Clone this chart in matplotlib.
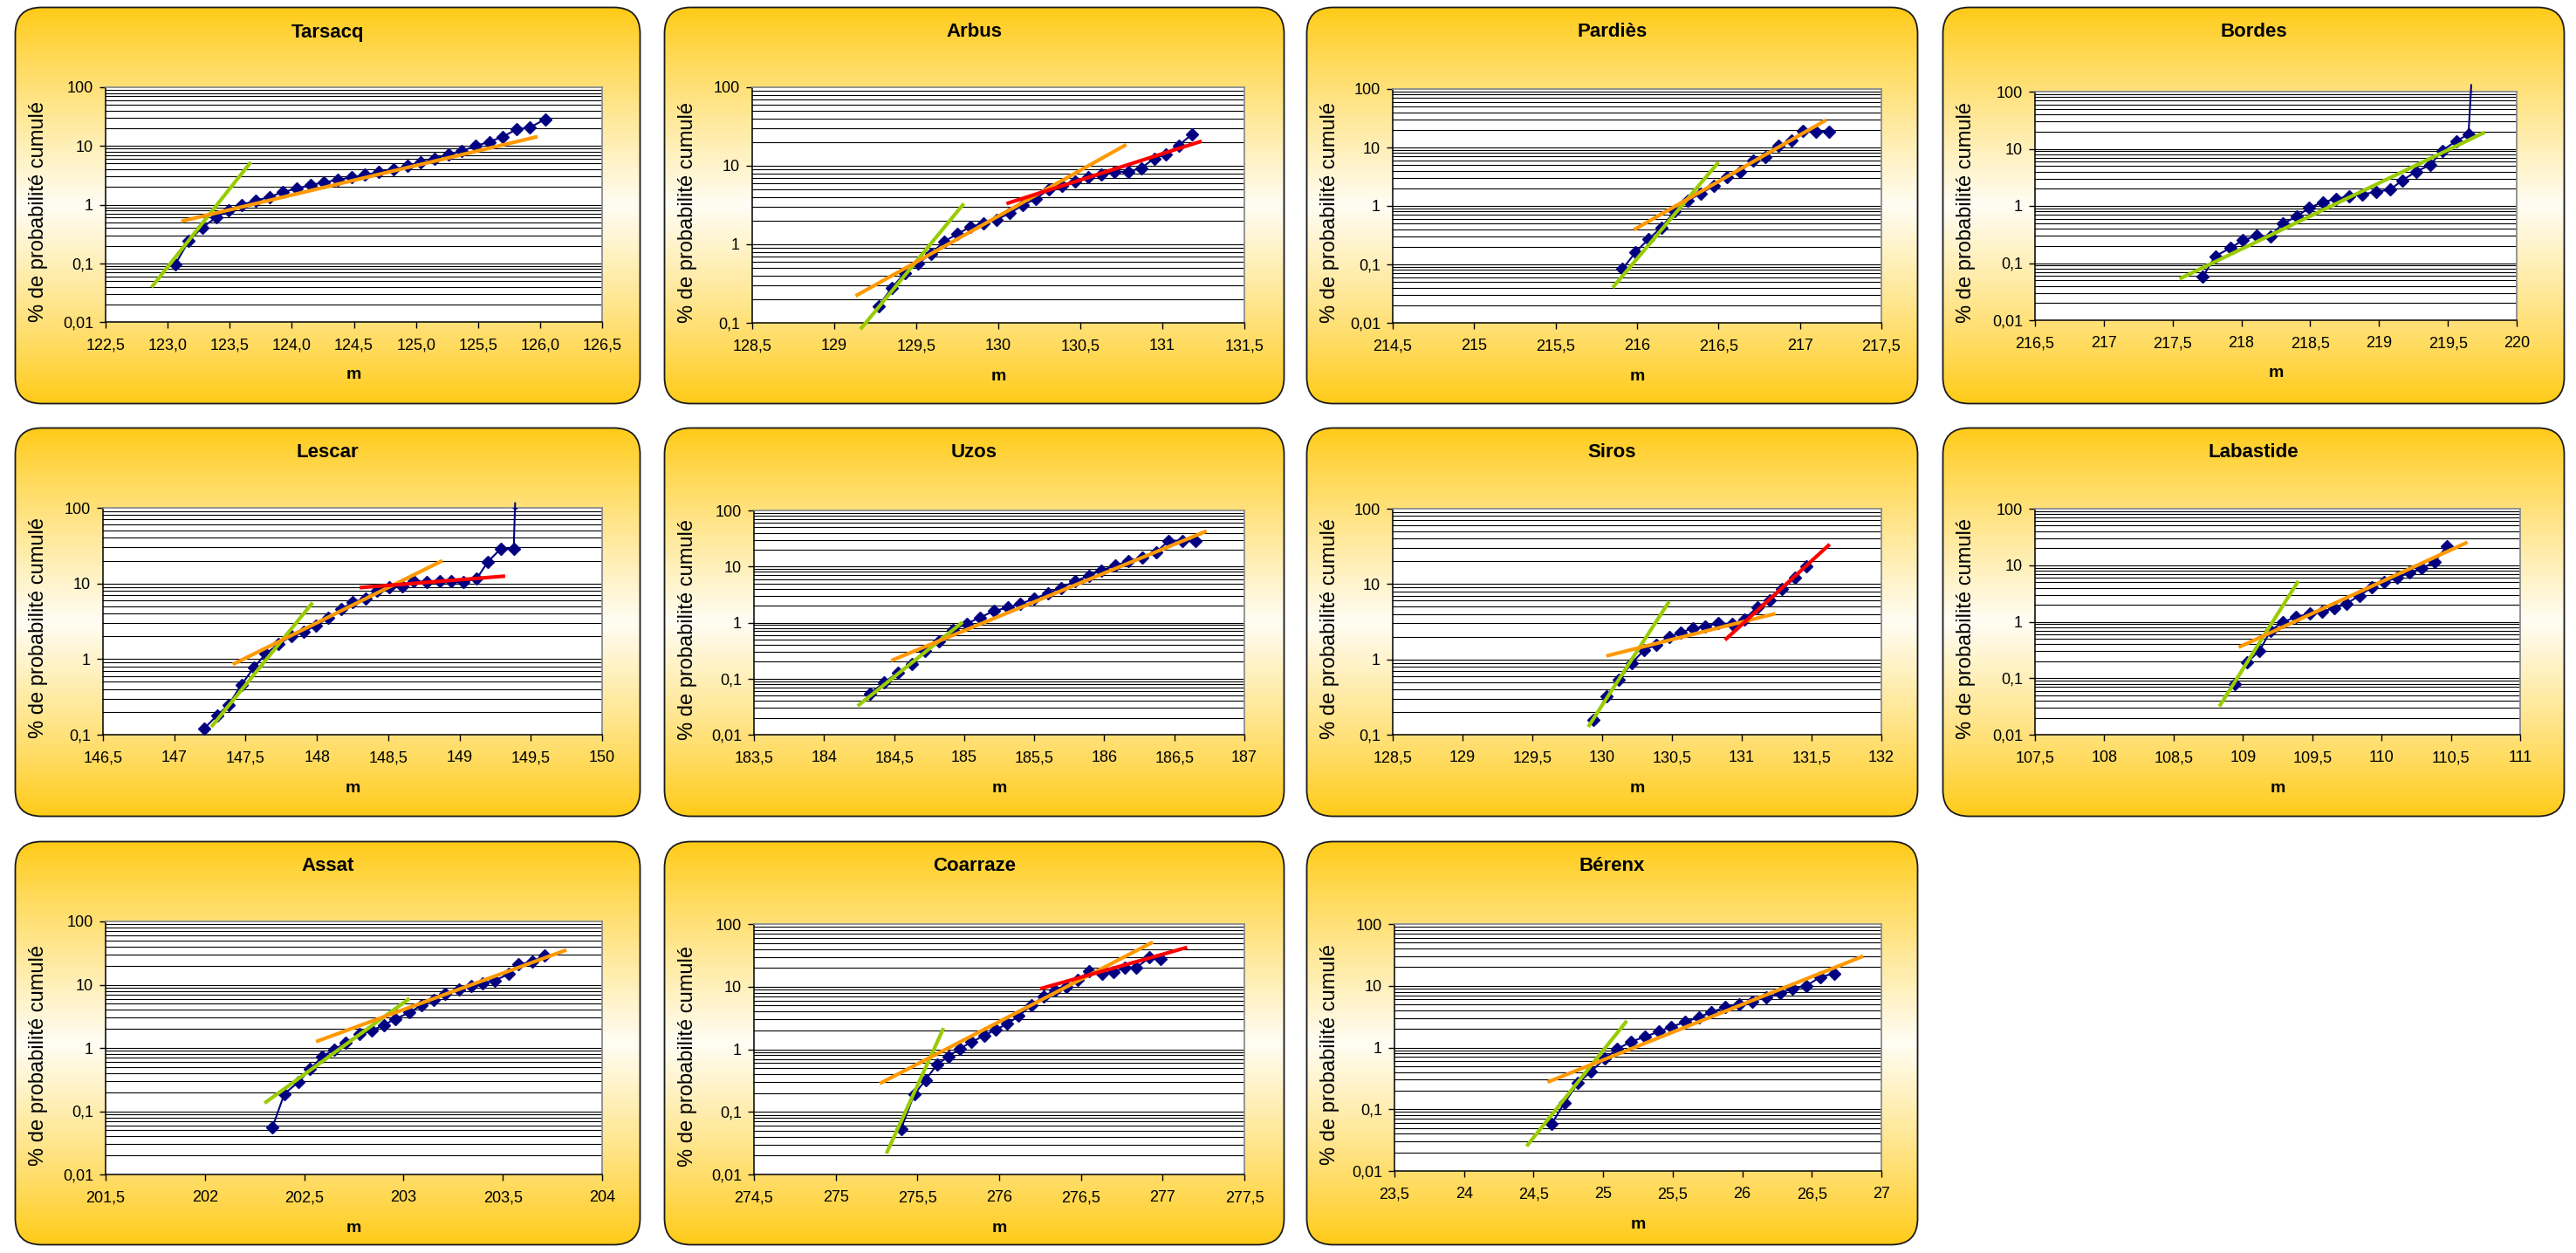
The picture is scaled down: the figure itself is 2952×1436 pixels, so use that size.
import numpy as np
import matplotlib
matplotlib.use("Agg")
import matplotlib.pyplot as plt
from matplotlib.patches import FancyBboxPatch
from matplotlib.ticker import FixedLocator, NullLocator, FixedFormatter

plt.rcParams['font.family'] = ['Liberation Sans', 'DejaVu Sans']

W, H = 2952, 1436

# ---------------------------------------------------------------- data
# cumulative probability (%) versus elevation (m) for each gravel station
tarsacq_m = [123.06, 123.17, 123.28, 123.39, 123.49, 123.60, 123.71, 123.82, 123.93, 124.04,
             124.15, 124.26, 124.37, 124.48, 124.59, 124.70, 124.82, 124.93, 125.04, 125.15,
             125.26, 125.37, 125.48, 125.59, 125.70, 125.81, 125.92, 126.04]
tarsacq_pct = [0.095, 0.24, 0.41, 0.60, 0.81, 1.0, 1.17, 1.35, 1.64, 1.88,
               2.16, 2.39, 2.65, 2.91, 3.22, 3.57, 4.0, 4.53, 5.2, 6.0,
               7.1, 8.2, 10.0, 11.7, 14.4, 19.1, 20.7, 28.5]
tarsacq_green = ([122.87, 123.67], [0.039, 5.3])
tarsacq_orange = ([123.11, 125.98], [0.52, 14.4])

arbus_m = [129.27, 129.35, 129.43, 129.51, 129.59, 129.67, 129.75, 129.83, 129.91, 129.99,
           130.07, 130.15, 130.23, 130.31, 130.39, 130.47, 130.55, 130.63, 130.71, 130.79,
           130.87, 130.95, 131.02, 131.10, 131.18]
arbus_pct = [0.163, 0.278, 0.43, 0.57, 0.76, 1.09, 1.35, 1.67, 1.85, 2.07,
             2.49, 3.16, 3.81, 5.05, 5.5, 6.26, 7.1, 7.74, 8.4, 8.4,
             9.3, 12.4, 14.1, 18.2, 25.1]
arbus_green = ([129.16, 129.79], [0.083, 3.3])
arbus_orange = ([129.13, 130.78], [0.22, 18.6])
arbus_red = ([130.05, 131.24], [3.3, 20.6])

pardies_m = [215.91, 215.99, 216.07, 216.15, 216.23, 216.31, 216.39, 216.47, 216.55, 216.63,
             216.71, 216.79, 216.87, 216.95, 217.02, 217.10, 217.18]
pardies_pct = [0.083, 0.16, 0.27, 0.43, 0.80, 1.22, 1.63, 2.2, 3.16, 3.84,
               5.9, 6.8, 10.7, 13.2, 19.0, 18.6, 18.6]
pardies_green = ([215.85, 216.50], [0.040, 5.6])
pardies_orange = ([215.98, 217.16], [0.39, 29.4])

bordes_m = [217.72, 217.81, 217.92, 218.01, 218.11, 218.21, 218.30, 218.40, 218.49, 218.59,
            218.69, 218.78, 218.88, 218.98, 219.08, 219.17, 219.27, 219.37, 219.46, 219.56,
            219.65, 219.67]
bordes_pct = [0.058, 0.132, 0.184, 0.25, 0.30, 0.294, 0.49, 0.65, 0.92, 1.16,
              1.34, 1.47, 1.6, 1.76, 1.93, 2.81, 4.0, 5.18, 9.3, 13.7,
              17.8, 130.0]
bordes_green = ([217.55, 219.77], [0.053, 19.5])

lescar_m = [147.21, 147.30, 147.38, 147.47, 147.56, 147.64, 147.73, 147.82, 147.91, 147.99,
            148.08, 148.17, 148.25, 148.34, 148.42, 148.51, 148.60, 148.68, 148.77, 148.86,
            148.94, 149.03, 149.12, 149.20, 149.29, 149.38, 149.39]
lescar_pct = [0.121, 0.18, 0.246, 0.457, 0.776, 1.17, 1.57, 2.0, 2.28, 2.79,
              3.48, 4.54, 5.66, 6.3, 8.07, 8.98, 9.2, 10.7, 10.5, 10.7,
              10.7, 10.5, 11.5, 19.5, 28.8, 28.5, 115.0]
lescar_green = ([147.26, 147.97], [0.127, 5.57])
lescar_orange = ([147.41, 148.88], [0.85, 20.0])
lescar_red = ([148.30, 149.32], [8.8, 12.5])

uzos_m = [184.33, 184.43, 184.53, 184.63, 184.72, 184.82, 184.92, 185.02, 185.11, 185.21,
          185.31, 185.40, 185.50, 185.60, 185.69, 185.79, 185.89, 185.98, 186.08, 186.17,
          186.27, 186.37, 186.46, 186.56, 186.65]
uzos_pct = [0.0545, 0.086, 0.129, 0.18, 0.308, 0.469, 0.738, 0.96, 1.22, 1.6,
            1.85, 2.16, 2.65, 3.36, 4.17, 5.42, 6.89, 8.54, 10.4, 12.5,
            14.4, 17.9, 28.9, 28.9, 28.2]
uzos_green = ([184.24, 184.99], [0.0326, 1.02])
uzos_orange = ([184.48, 186.73], [0.21, 42.8])

siros_m = [129.94, 130.03, 130.12, 130.21, 130.30, 130.39, 130.48, 130.56, 130.65, 130.74,
           130.83, 130.93, 131.02, 131.11, 131.20, 131.29, 131.38, 131.46]
siros_pct = [0.156, 0.327, 0.53, 0.887, 1.32, 1.58, 1.98, 2.26, 2.59, 2.75,
             3.01, 2.96, 3.38, 4.96, 6.03, 8.61, 12.0, 17.1]
siros_green = ([129.90, 130.48], [0.127, 5.87])
siros_orange = ([130.03, 131.24], [1.11, 4.04])
siros_red = ([130.88, 131.63], [1.81, 33.7])

labastide_m = [108.94, 109.03, 109.12, 109.20, 109.29, 109.38, 109.48, 109.57, 109.66, 109.75,
               109.84, 109.93, 110.02, 110.11, 110.20, 110.29, 110.38, 110.47]
labastide_pct = [0.080, 0.19, 0.306, 0.696, 0.99, 1.2, 1.39, 1.52, 1.72, 2.1,
                 2.9, 4.04, 5.13, 5.92, 7.33, 8.76, 11.4, 21.3]
labastide_green = ([108.83, 109.40], [0.0317, 5.25])
labastide_orange = ([108.97, 110.62], [0.353, 25.5])

assat_m = [202.34, 202.40, 202.47, 202.53, 202.59, 202.65, 202.71, 202.78, 202.84, 202.90,
           202.96, 203.03, 203.09, 203.15, 203.21, 203.28, 203.34, 203.40, 203.46, 203.53,
           203.58, 203.65, 203.71]
assat_pct = [0.0556, 0.188, 0.287, 0.461, 0.727, 0.938, 1.22, 1.64, 1.87, 2.31,
             2.88, 3.64, 4.74, 5.74, 7.25, 8.49, 9.44, 10.5, 11.7, 14.7,
             20.9, 23.2, 29.3]
assat_green = ([202.30, 203.03], [0.134, 6.05])
assat_orange = ([202.56, 203.82], [1.26, 35.4])

coarraze_m = [275.40, 275.48, 275.55, 275.62, 275.69, 275.76, 275.83, 275.91, 275.98, 276.05,
              276.12, 276.20, 276.27, 276.34, 276.41, 276.48, 276.55, 276.63, 276.70, 276.77,
              276.84, 276.92, 276.99]
coarraze_pct = [0.0538, 0.189, 0.323, 0.57, 0.77, 1.03, 1.3, 1.66, 2.06, 2.55,
                3.41, 5.13, 6.92, 8.76, 9.97, 12.8, 17.6, 16.2, 17.1, 20.2,
                20.2, 29.2, 27.6]
coarraze_green = ([275.31, 275.66], [0.0216, 2.18])
coarraze_orange = ([275.27, 276.94], [0.284, 51.4])
coarraze_red = ([276.25, 277.15], [9.25, 42.4])

berenx_m = [24.63, 24.72, 24.82, 24.91, 25.01, 25.10, 25.20, 25.30, 25.40, 25.49,
            25.59, 25.69, 25.78, 25.88, 25.98, 26.07, 26.17, 26.27, 26.36, 26.46,
            26.56, 26.66]
berenx_pct = [0.058, 0.125, 0.267, 0.403, 0.658, 0.942, 1.24, 1.49, 1.81, 2.18,
              2.57, 3.12, 3.75, 4.51, 5.03, 5.61, 6.46, 7.6, 8.95, 9.98,
              13.8, 15.9]
berenx_green = ([24.45, 25.17], [0.0252, 2.7])
berenx_orange = ([24.60, 26.87], [0.275, 30.2])

titles = ["Tarsacq", "Arbus", "Pardiès", "Bordes", "Lescar", "Uzos", "Siros",
          "Labastide", "Assat", "Coarraze", "Bérenx"]
x_ranges = [(122.5, 126.5), (128.5, 131.5), (214.5, 217.5), (216.5, 220.0),
            (146.5, 150.0), (183.5, 187.0), (128.5, 132.0), (107.5, 111.0),
            (201.5, 204.0), (274.5, 277.5), (23.5, 27.0)]
y_bottoms = [0.01, 0.1, 0.01, 0.01, 0.1, 0.01, 0.1, 0.01, 0.01, 0.01, 0.01]
series_m = [tarsacq_m, arbus_m, pardies_m, bordes_m, lescar_m, uzos_m, siros_m,
            labastide_m, assat_m, coarraze_m, berenx_m]
series_pct = [tarsacq_pct, arbus_pct, pardies_pct, bordes_pct, lescar_pct, uzos_pct,
              siros_pct, labastide_pct, assat_pct, coarraze_pct, berenx_pct]
green_fits = [tarsacq_green, arbus_green, pardies_green, bordes_green, lescar_green,
              uzos_green, siros_green, labastide_green, assat_green, coarraze_green,
              berenx_green]
orange_fits = [tarsacq_orange, arbus_orange, pardies_orange, None, lescar_orange,
               uzos_orange, siros_orange, labastide_orange, assat_orange,
               coarraze_orange, berenx_orange]
red_fits = [None, arbus_red, None, None, lescar_red, None, siros_red, None, None,
            coarraze_red, None]
one_decimal = [True] + [False] * 10

# ---------------------------------------------------------------- layout (pixels)
col_box = [(16, 735), (760, 1473), (1496, 2199), (2225, 2940)]
row_box = [(7, 464), (489, 937), (963, 1428)]
plot_px = [
    (121, 690, 100, 369), (862, 1426, 100, 370), (1596, 2156, 102, 370), (2332, 2884, 105, 367),
    (118, 690, 582, 842), (864, 1426, 585, 842), (1596, 2156, 583, 842), (2332, 2888, 583, 842),
    (121, 690, 1056, 1346), (864, 1426, 1059, 1346), (1598, 2156, 1059, 1342),
]

NAVY = "#000080"
GREEN = "#99CC00"
ORANGE = "#FF9900"
RED = "#FF0000"
GOLD = np.array([255, 202, 20]) / 255.0
PALE = np.array([255, 253, 244]) / 255.0

fig = plt.figure(figsize=(W / 100, H / 100), dpi=100)
fig.patch.set_facecolor("white")


def fx(x):
    return x / W


def fy(y):
    return 1 - y / H


def fmt_x(v, one_dec):
    if one_dec:
        return f"{v:.1f}".replace(".", ",")
    s = f"{v:g}"
    return s.replace(".", ",")


# vertical gradient: gold at top and bottom, almost white in the middle
t = np.linspace(0, 1, 400)
w = (1 - np.abs(2 * t - 1)) ** 0.9
grad = (GOLD[None, :] * (1 - w[:, None]) + PALE[None, :] * w[:, None])[:, None, :]

for i, title in enumerate(titles):
    r, c = divmod(i, 4)
    bx0, bx1 = col_box[c]
    by0, by1 = row_box[r]
    bw, bh = bx1 - bx0, by1 - by0

    # rounded gradient background
    bg = fig.add_axes([fx(bx0), fy(by1), bw / W, bh / H], zorder=0)
    bg.set_xlim(0, bw)
    bg.set_ylim(0, bh)
    bg.axis("off")
    im = bg.imshow(grad, extent=[0, bw, 0, bh], aspect="auto", origin="upper")
    box = FancyBboxPatch((1.5, 1.5), bw - 3, bh - 3,
                         boxstyle="round,pad=0,rounding_size=30",
                         facecolor="none", edgecolor="#1a1a1a", linewidth=1.3)
    bg.add_patch(box)
    im.set_clip_path(box)

    # plot area
    px0, px1, py0, py1 = plot_px[i]
    ax = fig.add_axes([fx(px0), fy(py1), (px1 - px0) / W, (py1 - py0) / H], zorder=2)
    ax.set_facecolor("white")
    ax.set_yscale("log")
    ylo = y_bottoms[i]
    ax.set_ylim(ylo, 100)
    xlo, xhi = x_ranges[i]
    ax.set_xlim(xlo, xhi)

    decades = [10.0 ** k for k in range(int(round(np.log10(ylo))), 3)]
    grid_vals = [m * d for d in decades[:-1] for m in range(1, 10)]
    for gv in grid_vals[1:]:
        ax.axhline(gv, color="black", lw=0.8, zorder=1)

    ax.yaxis.set_major_locator(FixedLocator(decades))
    ax.yaxis.set_minor_locator(NullLocator())
    ylabels = [("%g" % d).replace(".", ",") for d in decades]
    ax.yaxis.set_major_formatter(FixedFormatter(ylabels))
    xt = np.arange(xlo, xhi + 1e-6, 0.5)
    ax.xaxis.set_major_locator(FixedLocator(xt))
    ax.xaxis.set_minor_locator(NullLocator())
    ax.xaxis.set_major_formatter(FixedFormatter([fmt_x(v, one_decimal[i]) for v in xt]))
    ax.tick_params(axis="both", which="major", direction="out", length=5, width=1.0,
                   color="black", labelsize=13, labelcolor="black")
    ax.tick_params(axis="x", pad=8)
    ax.tick_params(axis="y", pad=5)
    for side in ("left", "bottom"):
        ax.spines[side].set_color("black")
        ax.spines[side].set_linewidth(1.1)
    for side in ("top", "right"):
        ax.spines[side].set_color("#8c8c8c")
        ax.spines[side].set_linewidth(1.3)

    xs = series_m[i]
    ps = series_pct[i]
    ax.plot(xs, ps, color=NAVY, lw=1.5, zorder=3, clip_on=False)
    ax.plot(xs, ps, linestyle="none", marker="D", ms=7.6, color=NAVY, zorder=4)

    for fit, col in ((green_fits[i], GREEN), (orange_fits[i], ORANGE), (red_fits[i], RED)):
        if fit is not None:
            ax.plot(fit[0], fit[1], color=col, lw=3.0, zorder=5, clip_on=False,
                    solid_capstyle="butt")

    # texts
    fig.text(fx((bx0 + bx1) / 2), fy(by0 + 30), title, ha="center", va="center",
             fontsize=16, fontweight="bold")
    fig.text(fx((px0 + px1) / 2), fy(py1 + 61), "m", ha="center", va="center",
             fontsize=14, fontweight="bold")
    fig.text(fx(bx0 + 28), fy((py0 + py1) / 2 + 8), "% de probabilité cumulé",
             ha="center", va="center", rotation=90, fontsize=17)

fig.savefig("out.png", dpi=100, facecolor="white")
